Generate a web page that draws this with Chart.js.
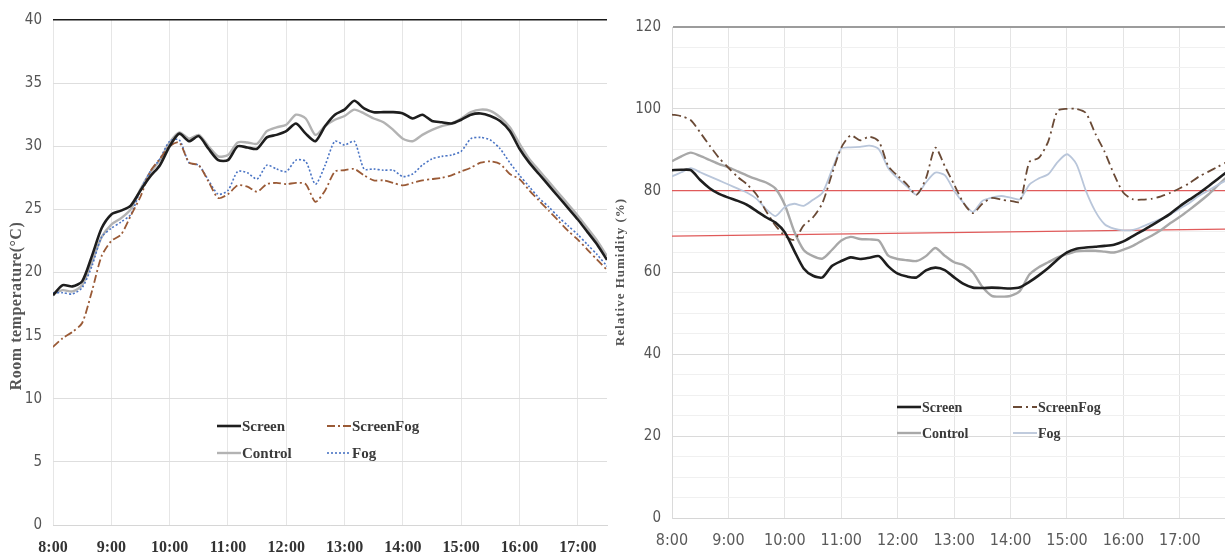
<!DOCTYPE html>
<html>
<head>
<meta charset="utf-8">
<script src="https://cdn.jsdelivr.net/npm/chart.js@4.4.1/dist/chart.umd.min.js"></script>
<style>
    html, body { margin: 0; padding: 0; background: #fff; overflow: hidden; }
    #left { position: absolute; left: 0; top: 0; width: 612px; height: 557px; }
    #right { position: absolute; left: 610px; top: 0; width: 615px; height: 557px; }
</style>
</head>
<body>
<div id="left"><canvas id="tempChart" width="612" height="557"></canvas></div>
<div id="right"><canvas id="humChart" width="615" height="557"></canvas></div>
<script>
var times = ['8:00', '8:10', '8:20', '8:30', '8:40', '8:50', '9:00', '9:10', '9:20', '9:30',
             '9:40', '9:50', '10:00', '10:10', '10:20', '10:30', '10:40', '10:50', '11:00', '11:10',
             '11:20', '11:30', '11:40', '11:50', '12:00', '12:10', '12:20', '12:30', '12:40', '12:50',
             '13:00', '13:10', '13:20', '13:30', '13:40', '13:50', '14:00', '14:10', '14:20', '14:30',
             '14:40', '14:50', '15:00', '15:10', '15:20', '15:30', '15:40', '15:50', '16:00', '16:10',
             '16:20', '16:30', '16:40', '16:50', '17:00', '17:10', '17:20', '17:30', '17:40', '17:50'];

// room temperature (C), 8:00 - 17:30
var tempScreen = [18.2, 19.0, 18.9, 19.3, 21.3, 23.5, 24.6, 24.9, 25.3, 26.5,
                  27.6, 28.5, 30.0, 31.0, 30.4, 30.8, 29.8, 28.9, 28.9, 30.0,
                  29.9, 29.8, 30.7, 30.9, 31.2, 31.8, 31.0, 30.4, 31.6, 32.5,
                  32.9, 33.6, 33.0, 32.7, 32.7, 32.7, 32.6, 32.2, 32.5, 32.0,
                  31.9, 31.8, 32.1, 32.5, 32.6, 32.4, 32.0, 31.2, 29.8, 28.7,
                  27.8, 26.9, 26.0, 25.1, 24.2, 23.2, 22.2, 21.0];
var tempScreenFog = [14.1, 14.8, 15.3, 16.0, 18.5, 21.3, 22.5, 23.0, 24.5, 26.0,
                     28.0, 29.0, 30.0, 30.3, 28.7, 28.5, 27.2, 25.9, 26.2, 26.9,
                     26.8, 26.4, 27.0, 27.1, 27.0, 27.1, 27.0, 25.6, 26.5, 28.0,
                     28.1, 28.2, 27.7, 27.3, 27.3, 27.1, 26.9, 27.1, 27.3, 27.4,
                     27.5, 27.7, 28.0, 28.3, 28.7, 28.8, 28.6, 27.8, 27.4, 26.5,
                     25.7, 24.9, 24.1, 23.3, 22.6, 21.8, 21.0, 20.2];
var tempControl = [18.3, 18.6, 18.5, 19.0, 20.8, 22.8, 23.8, 24.3, 25.0, 26.6,
                   27.9, 28.9, 30.3, 31.1, 30.6, 30.9, 30.0, 29.2, 29.3, 30.3,
                   30.3, 30.2, 31.2, 31.5, 31.7, 32.5, 32.2, 30.9, 31.6, 32.1,
                   32.4, 32.9, 32.6, 32.2, 31.9, 31.3, 30.6, 30.4, 30.9, 31.3,
                   31.6, 31.8, 32.2, 32.7, 32.9, 32.8, 32.3, 31.5, 30.2, 29.0,
                   28.1, 27.2, 26.3, 25.4, 24.5, 23.5, 22.5, 21.3];
var tempFog = [18.4, 18.4, 18.3, 18.8, 20.5, 22.8, 23.5, 24.0, 24.6, 26.5,
               28.0, 29.0, 30.4, 30.5, 28.7, 28.5, 27.3, 26.2, 26.5, 28.0,
               27.9, 27.4, 28.5, 28.2, 28.0, 28.9, 28.8, 27.0, 28.5, 30.4,
               30.1, 30.4, 28.2, 28.2, 28.1, 28.1, 27.6, 27.8, 28.5, 29.0,
               29.2, 29.3, 29.6, 30.6, 30.7, 30.5, 29.8, 28.7, 27.7, 26.8,
               25.9, 25.2, 24.4, 23.7, 23.0, 22.2, 21.4, 20.5];

// relative humidity (%), 8:00 - 17:50
var humScreen = [85.0, 85.1, 85.0, 82.6, 80.6, 79.2, 78.3, 77.5, 76.5, 75.0,
                 73.5, 72.2, 69.8, 65.3, 61.0, 59.2, 58.8, 61.6, 62.8, 63.7,
                 63.3, 63.6, 64.0, 61.5, 59.7, 59.0, 58.8, 60.5, 61.2, 60.6,
                 58.8, 57.2, 56.3, 56.2, 56.3, 56.2, 56.1, 56.4, 57.7, 59.3,
                 61.1, 63.2, 64.9, 65.8, 66.1, 66.3, 66.5, 66.8, 67.6, 68.9,
                 70.2, 71.5, 72.9, 74.4, 76.2, 77.8, 79.3, 81.0, 82.8, 84.6];
var humScreenFog = [98.6, 98.2, 97.2, 94.2, 91.0, 88.0, 85.6, 83.3, 81.5, 79.0,
                    75.0, 71.5, 69.0, 68.0, 71.5, 73.5, 77.0, 84.0, 90.5, 93.5,
                    92.3, 93.2, 92.0, 86.0, 83.6, 81.5, 79.0, 83.0, 90.5, 86.0,
                    81.5, 77.0, 74.5, 76.8, 78.2, 77.8, 77.5, 77.3, 87.0, 88.0,
                    92.0, 99.5, 100, 100, 99.0, 94.0, 89.5, 84.0, 79.5, 77.9,
                    77.8, 78.0, 78.6, 79.5, 80.6, 81.8, 83.4, 84.6, 85.8, 87.0];
var humControl = [87.2, 88.4, 89.3, 88.5, 87.5, 86.5, 85.7, 84.7, 83.7, 82.8,
                  82.0, 80.5, 76.5, 70.0, 65.5, 64.0, 63.4, 65.5, 67.8, 68.7,
                  68.2, 68.1, 67.8, 64.1, 63.3, 63.0, 62.8, 64.0, 66.0, 64.1,
                  62.5, 61.8, 60.0, 56.5, 54.3, 54.1, 54.3, 55.5, 59.5, 61.3,
                  62.5, 63.7, 64.5, 65.2, 65.3, 65.3, 65.1, 64.9, 65.6, 66.5,
                  67.8, 69.0, 70.4, 72.1, 73.6, 75.3, 77.1, 79.0, 81.2, 83.4];
var humFog = [83.5, 84.5, 85.5, 84.5, 83.5, 82.5, 81.5, 80.5, 79.5, 78.0,
              75.5, 73.8, 76.0, 76.8, 76.3, 77.8, 79.5, 85.0, 90.3, 90.6,
              90.7, 91.0, 90.1, 85.5, 83.0, 81.0, 79.0, 82.0, 84.4, 83.8,
              80.0, 77.0, 74.8, 77.5, 78.3, 78.7, 78.3, 77.9, 81.5, 83.0,
              84.0, 87.0, 88.9, 86.5, 80.0, 75.0, 71.8, 70.7, 70.3, 70.4,
              71.2, 72.2, 73.1, 74.2, 75.6, 77.0, 78.7, 80.0, 81.4, 82.6];

// red reference lines on the humidity chart
var refTimes = ['8:00', '17:48'];
var refUpper = [80, 80];
var refLower = [68.9, 70.6];

function toHours(t) {
    var p = t.split(':');
    return Number(p[0]) + Number(p[1]) / 60;
}

function points(labels, values) {
    return values.map(function (v, i) {
        return { x: toHours(labels[i]), y: v };
    });
}

function hourLabel(v) {
    return Math.round(v) + ':00';
}

// legend drawn inside the plot area + rotated axis title
var overlayPlugin = {
    id: 'overlay',
    afterDraw: function (chart, args, opts) {
        var ctx = chart.ctx;
        ctx.save();
        opts.items.forEach(function (it) {
            var ds = chart.data.datasets[it.index];
            ctx.strokeStyle = ds.borderColor;
            ctx.lineWidth = ds.borderWidth;
            ctx.setLineDash(ds.borderDash || []);
            ctx.beginPath();
            ctx.moveTo(it.x, it.y);
            ctx.lineTo(it.x + 24, it.y);
            ctx.stroke();
            ctx.setLineDash([]);
            ctx.fillStyle = '#3a3a3a';
            ctx.font = opts.legendFont;
            ctx.textBaseline = 'middle';
            ctx.textAlign = 'left';
            ctx.fillText(ds.label, it.x + 25, it.y + 1);
        });

        ctx.translate(opts.titleX, opts.titleY);
        ctx.rotate(-Math.PI / 2);
        ctx.font = opts.titleFont;
        ctx.letterSpacing = opts.titleSpacing;
        ctx.fillStyle = '#555555';
        ctx.textAlign = 'center';
        ctx.textBaseline = 'middle';
        ctx.fillText(opts.title, 0, 0);
        ctx.restore();
    }
};

var narrowSans = "'Liberation Sans Narrow', 'DejaVu Sans Condensed', 'Open Sans', sans-serif";
var serif = "'Liberation Serif', 'DejaVu Serif', serif";

var tempChart = new Chart(document.getElementById('tempChart'), {
    type: 'line',
    data: {
        datasets: [{
            label: 'Screen',
            data: points(times, tempScreen),
            borderColor: '#1e1e1e',
            borderWidth: 2.6
        }, {
            label: 'ScreenFog',
            data: points(times, tempScreenFog),
            borderColor: '#9a5a36',
            borderWidth: 1.8,
            borderDash: [8, 3, 2, 3]
        }, {
            label: 'Fog',
            data: points(times, tempFog),
            borderColor: '#4a74c4',
            borderWidth: 1.6,
            borderDash: [2, 2]
        }, {
            label: 'Control',
            data: points(times, tempControl),
            borderColor: '#b3b3b3',
            borderWidth: 2.4
        }]
    },
    options: {
        responsive: false,
        animation: false,
        layout: { padding: { top: 16, right: 5, left: 0, bottom: 0 } },
        elements: { point: { radius: 0 }, line: { tension: 0.25 } },
        scales: {
            x: {
                type: 'linear',
                min: 8,
                max: 17.5,
                afterFit: function (s) { s.height = 32; },
                grid: { color: '#e6e6e6', drawTicks: false },
                border: { color: '#d6d6d6' },
                ticks: {
                    stepSize: 1,
                    includeBounds: false,
                    autoSkip: false,
                    maxRotation: 0,
                    padding: 13,
                    color: '#333333',
                    font: { family: serif, size: 16, weight: 'bold' },
                    callback: hourLabel
                }
            },
            y: {
                min: 0,
                max: 40,
                afterFit: function (s) { s.width = 53; },
                grid: {
                    drawTicks: false,
                    color: function (c) { return c.tick.value === 40 ? '#1a1a1a' : '#dedede'; },
                    lineWidth: function (c) { return c.tick.value === 40 ? 1.5 : 1; }
                },
                border: { display: false },
                ticks: {
                    stepSize: 5,
                    padding: 11,
                    color: '#555555',
                    font: { family: narrowSans, size: 15 }
                }
            }
        },
        plugins: {
            legend: { display: false },
            tooltip: { enabled: false },
            overlay: {
                items: [
                    { index: 0, x: 217, y: 426 },
                    { index: 1, x: 327, y: 426 },
                    { index: 3, x: 217, y: 453 },
                    { index: 2, x: 327, y: 453 }
                ],
                legendFont: 'bold 15px ' + serif,
                title: 'Room temperature(\u00b0C)',
                titleX: 17,
                titleY: 306,
                titleFont: 'bold 16px ' + serif,
                titleSpacing: '0.5px'
            }
        }
    },
    plugins: [overlayPlugin]
});

var humChart = new Chart(document.getElementById('humChart'), {
    type: 'line',
    data: {
        datasets: [{
            label: 'Screen',
            data: points(times, humScreen),
            borderColor: '#1e1e1e',
            borderWidth: 2.6
        }, {
            label: 'ScreenFog',
            data: points(times, humScreenFog),
            borderColor: '#6a4a36',
            borderWidth: 1.8,
            borderDash: [9, 4, 2, 4]
        }, {
            label: 'Fog',
            data: points(times, humFog),
            borderColor: '#b9c6da',
            borderWidth: 1.8
        }, {
            label: 'Control',
            data: points(times, humControl),
            borderColor: '#a8a8a8',
            borderWidth: 2.4
        }, {
            label: 'upper',
            data: points(refTimes, refUpper),
            borderColor: '#e05a5a',
            borderWidth: 1.4,
            tension: 0
        }, {
            label: 'lower',
            data: points(refTimes, refLower),
            borderColor: '#e05a5a',
            borderWidth: 1.4,
            tension: 0
        }]
    },
    options: {
        responsive: false,
        animation: false,
        layout: { padding: { top: 27, right: 0, left: 0, bottom: 0 } },
        elements: { point: { radius: 0 }, line: { tension: 0.25 } },
        scales: {
            x: {
                type: 'linear',
                min: 8,
                max: 17.8,
                afterFit: function (s) { s.height = 39; },
                grid: { color: '#e4e4e4', drawTicks: false },
                border: { color: '#d6d6d6' },
                ticks: {
                    stepSize: 1,
                    includeBounds: false,
                    autoSkip: false,
                    maxRotation: 0,
                    padding: 13,
                    color: '#5a5a5a',
                    font: { family: narrowSans, size: 16 },
                    callback: hourLabel
                }
            },
            y: {
                min: 0,
                max: 120,
                afterFit: function (s) { s.width = 62; },
                grid: {
                    drawTicks: false,
                    color: function (c) {
                        var v = c.tick.value;
                        if (v === 120) return '#9c9c9c';
                        return v % 20 === 0 ? '#dadada' : '#f0f0f0';
                    },
                    lineWidth: function (c) { return c.tick.value === 120 ? 2 : 1; }
                },
                border: { color: '#dadada' },
                ticks: {
                    stepSize: 5,
                    autoSkip: false,
                    padding: 11,
                    color: '#555555',
                    font: { family: narrowSans, size: 15 },
                    callback: function (v) { return v % 20 === 0 ? v : ''; }
                }
            }
        },
        plugins: {
            legend: { display: false },
            tooltip: { enabled: false },
            overlay: {
                items: [
                    { index: 0, x: 287, y: 407 },
                    { index: 1, x: 403, y: 407 },
                    { index: 3, x: 287, y: 433 },
                    { index: 2, x: 403, y: 433 }
                ],
                legendFont: 'bold 14px ' + serif,
                title: 'Relative Humidity (%)',
                titleX: 11,
                titleY: 272,
                titleFont: 'bold 13px ' + serif,
                titleSpacing: '1px'
            }
        }
    },
    plugins: [overlayPlugin]
});
</script>
</body>
</html>
